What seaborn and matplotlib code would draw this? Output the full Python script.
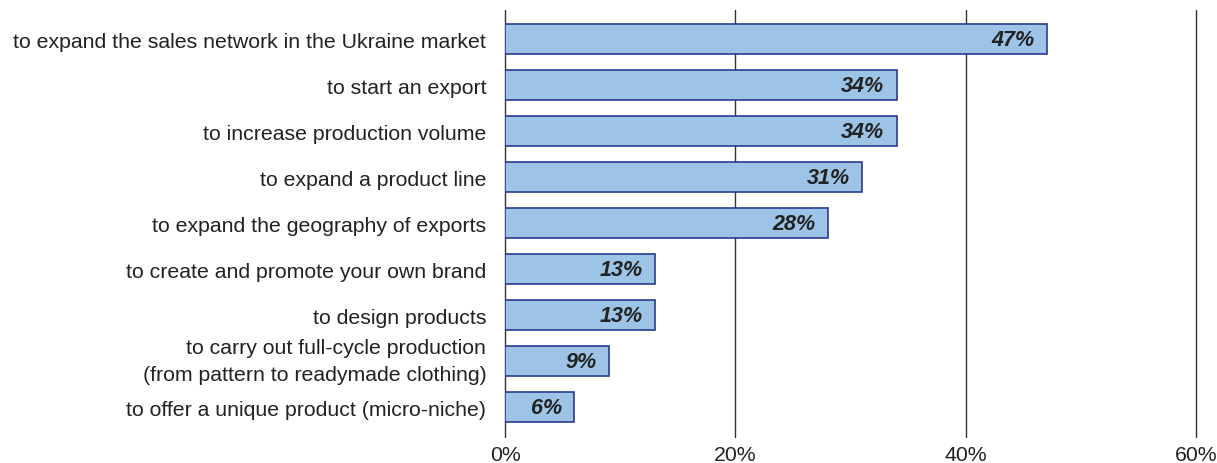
import matplotlib
matplotlib.use("Agg")
import matplotlib.pyplot as plt
import seaborn as sns
import pandas as pd

categories = [
    "to expand the sales network in the Ukraine market",
    "to start an export",
    "to increase production volume",
    "to expand a product line",
    "to expand the geography of exports",
    "to create and promote your own brand",
    "to design products",
    "to carry out full-cycle production\n(from pattern to readymade clothing)",
    "to offer a unique product (micro-niche)",
]
values = [47, 34, 34, 31, 28, 13, 13, 9, 6]
xticks = [0, 20, 40, 60]
xtick_labels = ["0%", "20%", "40%", "60%"]

sns.set_theme(style="white")
plt.rcParams["font.family"] = ["Liberation Sans", "DejaVu Sans"]

df = pd.DataFrame({"category": categories, "value": values})

fig = plt.figure(figsize=(12.17, 4.64), dpi=100)
ax = fig.add_axes([0.415, 0.056, 0.568, 0.920])

# vertical gridlines drawn under the bars
for x in xticks:
    ax.axvline(x, color="#333333", linewidth=1.0, zorder=0, clip_on=False)

sns.barplot(data=df, x="value", y="category", orient="h", ax=ax,
            color="#9DC3E6", saturation=1, width=0.65,
            edgecolor="#2B3990", linewidth=1.2, zorder=2)

for i, v in enumerate(values):
    ax.annotate(f"{v}%", xy=(v, i), xytext=(-9, 0), textcoords="offset points",
                ha="right", va="center", fontsize=15.5, fontweight="bold",
                fontstyle="italic", color="#222222", zorder=3)

ax.set_xlim(0, 60)
ax.set_ylim(8.65, -0.63)
ax.set_xticks(xticks)
ax.set_xticklabels(xtick_labels)
ax.set_xlabel("")
ax.set_ylabel("")
ax.tick_params(axis="x", length=0, labelsize=15.3, colors="#222222", pad=6)
ax.tick_params(axis="y", length=0, labelsize=15.3, colors="#222222", pad=13.5)
for s in ax.spines.values():
    s.set_visible(False)

# make sure tick labels exist before styling the two-line category
fig.canvas.draw()
for lbl in ax.get_yticklabels():
    lbl.set_horizontalalignment("right")
    if "\n" in lbl.get_text():
        lbl.set_linespacing(1.5)
        lbl.set_verticalalignment("center")

fig.savefig("out.png", dpi=100, facecolor="white")
